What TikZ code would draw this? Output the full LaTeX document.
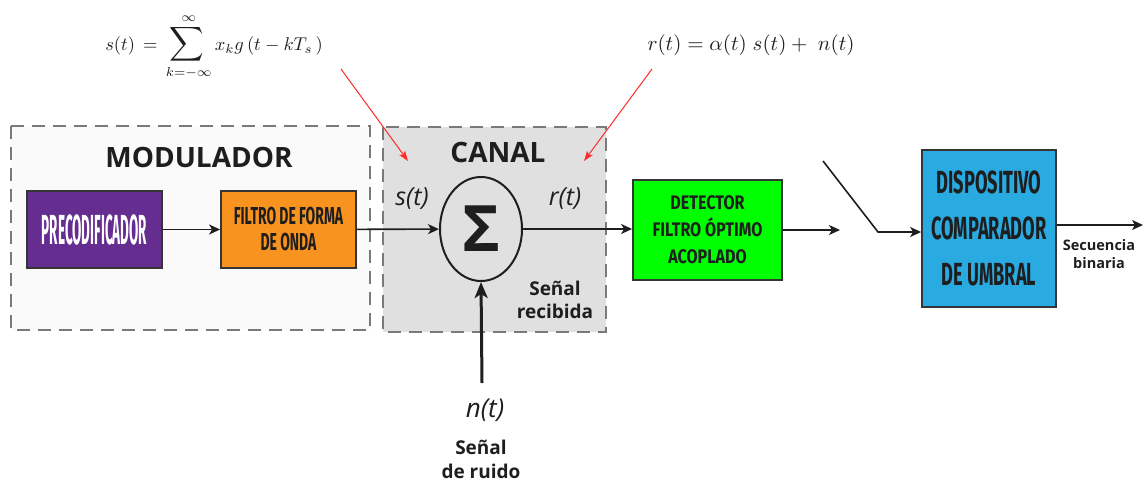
\documentclass[tikz,border=0pt]{standalone}
\usepackage[no-math]{fontspec}
\usetikzlibrary{arrows.meta,shapes.geometric}
\newfontfamily\osans{Open Sans}
\newfontfamily\condA[FakeStretch=0.57]{Fira Sans}
\newfontfamily\condB[FakeStretch=0.82]{Fira Sans}
\newfontfamily\condC[FakeStretch=0.32]{Fira Sans}
\definecolor{purp}{HTML}{662D91}
\definecolor{orng}{HTML}{F7931E}
\definecolor{grn}{HTML}{00FF00}
\definecolor{blu}{HTML}{29ABE2}
\definecolor{canalfill}{HTML}{E0E0E0}
\definecolor{modfill}{HTML}{FAFAFA}
\definecolor{dashgray}{HTML}{7A7A7A}
\definecolor{redarrow}{HTML}{FF2A2A}
\definecolor{txtdark}{HTML}{1E1E1E}
\tikzset{
  blk/.style={draw=txtdark!90, line width=1.8pt, inner sep=0pt, align=center, text=txtdark},
  groupbox/.style={draw=dashgray, line width=2.5pt, dash pattern=on 13pt off 8pt},
  conn/.style={draw=txtdark, line width=1.6pt, -{Stealth[length=11pt,width=10pt,inset=3pt]}},
  bigconn/.style={draw=txtdark, line width=3pt, -{Stealth[length=16pt,width=13pt,inset=4pt]}},
  redconn/.style={draw=redarrow, line width=1pt, -{Stealth[length=10pt,width=7pt,inset=2pt]}},
  lbl/.style={inner sep=0pt, align=center, text=txtdark}
}
\begin{document}
\begin{tikzpicture}[x=1pt,y=-1pt]
\useasboundingbox[fill=white] (0,0) rectangle (1145,482);

% group boxes
\path[groupbox, fill=modfill] (11,126) rectangle (370,330);
\path[groupbox, fill=canalfill] (383,127) rectangle (606,332);

\node[lbl, font=\osans\bfseries\fontsize{28}{30}\selectfont] (modlbl) at (199,157) {MODULADOR};
\node[lbl, font=\osans\bfseries\fontsize{28}{30}\selectfont] (canlbl) at (498,152) {CANAL};

% formulas
\node[lbl] (f1) at (214,47)
  {\scalebox{1.85}{$\displaystyle s(t)\,=\,\mathop{\scalebox{1.3}{$\displaystyle\sum$}}\limits_{k=-\infty}^{\infty} x_k g\,(t-kT_s\,)$}};
\node[lbl] (f2) at (751,45)
  {\scalebox{2.1}{$r(t)=\alpha(t)\;s(t)+\;n(t)$}};

% blocks
\node[blk, fill=purp, minimum width=135pt, minimum height=77pt, text=white,
      font=\condC\bfseries\fontsize{42}{44}\selectfont] (pre) at (94.5,229.5) {PRECODIFICADOR};
\node[blk, fill=orng, minimum width=135pt, minimum height=77pt,
      font=\condA\bfseries\fontsize{24.5}{26}\selectfont] (fil) at (288.5,229.5) {FILTRO DE FORMA\\DE ONDA};
\node[blk, fill=grn, minimum width=149pt, minimum height=100pt,
      font=\condB\bfseries\fontsize{19.6}{27}\selectfont] (det) at (707.5,230) {DETECTOR\\FILTRO ÓPTIMO\\ACOPLADO};
\node[blk, fill=blu, minimum width=134pt, minimum height=157pt,
      font=\condA\bfseries\fontsize{32}{46}\selectfont] (comp) at (989,228.5) {DISPOSITIVO\\COMPARADOR\\DE UMBRAL};

% summing junction
\node[ellipse, draw=txtdark, line width=2pt, minimum width=82pt, minimum height=104pt, inner sep=0pt,
      font=\osans\bfseries\fontsize{64}{64}\selectfont, text=txtdark] (sum) at (481,229) {Σ};

\node[lbl, font=\osans\itshape\fontsize{25}{27}\selectfont] (slbl) at (412,199) {s(t)};
\node[lbl, font=\osans\itshape\fontsize{25}{27}\selectfont] (rlbl) at (565,199) {r(t)};
\node[lbl, font=\osans\bfseries\fontsize{19}{23}\selectfont] (reclbl) at (555,300) {Señal\\recibida};

\node[lbl, font=\osans\itshape\fontsize{26}{28}\selectfont] (nlbl) at (485,410) {n(t)};
\node[lbl, font=\osans\bfseries\fontsize{19}{24}\selectfont] (ruido) at (481,459) {Señal\\de ruido};
\node[lbl, font=\osans\bfseries\fontsize{14.5}{18}\selectfont] (seclbl) at (1099,254) {Secuencia\\binaria};

% connectors
\coordinate (nb) at (482,383);
\coordinate (o1) at (840,230);
\coordinate (d1) at (823,161);
\coordinate (d2) at (878,232);
\coordinate (o2) at (1143,225);
\coordinate (ra1) at (341,69);
\coordinate (ra2) at (408,161);
\coordinate (rb1) at (652,69);
\coordinate (rb2) at (584,161);

\draw[conn] (pre) -- (fil);
\draw[conn] (fil) -- (sum);
\draw[conn] (sum.east) -- (sum.east -| det.west);
\draw[conn] (det.east |- o1) -- (o1);
\draw[conn] (d1) -- (d2) -- (d2 -| comp.west);
\draw[conn] (comp.east |- o2) -- (o2);
\draw[bigconn] (nb) -- (sum.south);
\draw[redconn] (ra1) -- (ra2);
\draw[redconn] (rb1) -- (rb2);
\end{tikzpicture}
\end{document}
